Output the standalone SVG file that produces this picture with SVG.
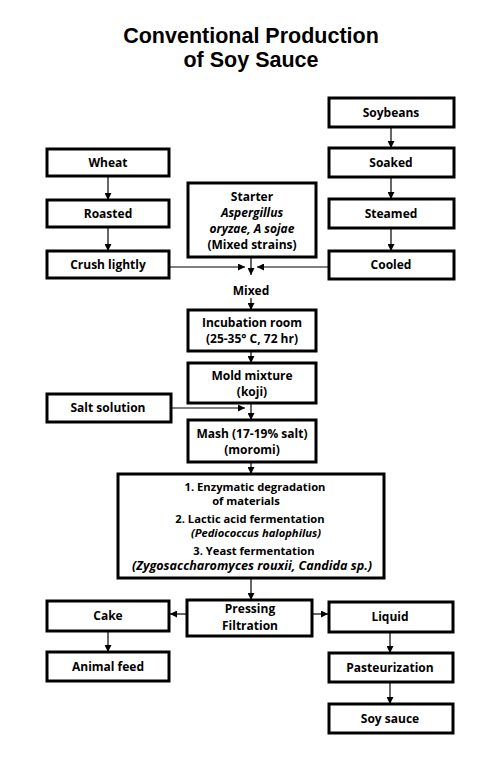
<svg xmlns="http://www.w3.org/2000/svg" width="500" height="765" viewBox="0 0 500 765">
<defs>
<marker id="ah" viewBox="0 0 10 10" refX="10" refY="5" markerWidth="7" markerHeight="7" markerUnits="userSpaceOnUse" orient="auto">
<path d="M0,0 L10,5 L0,10 z" fill="#000"/>
</marker>
<style>
.box{fill:#fff;stroke:#000;stroke-width:3}
.t{font-family:"Open Sans","Liberation Sans",sans-serif;font-weight:bold;font-size:12px;fill:#000;text-anchor:middle}
.s{font-size:11.2px}
.i{font-style:italic}
.title{font-family:"Liberation Sans","Open Sans",sans-serif;font-weight:bold;font-size:21.5px;fill:#000;text-anchor:middle}
.c{stroke:#000;stroke-width:1.2;fill:none}
</style>
</defs>
<rect width="500" height="765" fill="#fff"/>
<g id="title">
<text class="title" x="251" y="42.5">Conventional Production</text>
<text class="title" x="251" y="67">of Soy Sauce</text>
</g>
<g id="connectors">
<line class="c" x1="108" y1="176" x2="108" y2="200" marker-end="url(#ah)"/>
<line class="c" x1="108" y1="227" x2="108" y2="251" marker-end="url(#ah)"/>
<line class="c" x1="391" y1="127" x2="391" y2="148" marker-end="url(#ah)"/>
<line class="c" x1="391" y1="177" x2="391" y2="199" marker-end="url(#ah)"/>
<line class="c" x1="391" y1="228" x2="391" y2="251" marker-end="url(#ah)"/>
<line class="c" x1="169" y1="267" x2="245" y2="267" marker-end="url(#ah)"/>
<line class="c" x1="329" y1="267" x2="257" y2="267" marker-end="url(#ah)"/>
<line class="c" x1="251" y1="257" x2="251" y2="275" marker-end="url(#ah)"/>
<line class="c" x1="251" y1="298" x2="251" y2="310" marker-end="url(#ah)"/>
<line class="c" x1="251" y1="351" x2="251" y2="363" marker-end="url(#ah)"/>
<line class="c" x1="251" y1="403" x2="251" y2="420" marker-end="url(#ah)"/>
<line class="c" x1="171" y1="408" x2="245" y2="408" marker-end="url(#ah)"/>
<line class="c" x1="251" y1="462" x2="251" y2="474" marker-end="url(#ah)"/>
<line class="c" x1="251" y1="578" x2="251" y2="600" marker-end="url(#ah)"/>
<line class="c" x1="187" y1="614" x2="170" y2="614" marker-end="url(#ah)"/>
<line class="c" x1="312" y1="614" x2="328" y2="614" marker-end="url(#ah)"/>
<line class="c" x1="108" y1="631" x2="108" y2="652" marker-end="url(#ah)"/>
<line class="c" x1="390" y1="632" x2="390" y2="653" marker-end="url(#ah)"/>
<line class="c" x1="390" y1="682" x2="390" y2="704" marker-end="url(#ah)"/>
</g>
<g id="wheat"><rect class="box" x="47" y="149" width="122" height="27"/><text class="t" x="108" y="167">Wheat</text></g>
<g id="roasted"><rect class="box" x="47" y="200" width="122" height="27"/><text class="t" x="108" y="218">Roasted</text></g>
<g id="crush"><rect class="box" x="47" y="251" width="122" height="27"/><text class="t" x="108" y="269">Crush lightly</text></g>
<g id="soybeans"><rect class="box" x="329" y="98" width="125" height="29"/><text class="t" x="391" y="117">Soybeans</text></g>
<g id="soaked"><rect class="box" x="329" y="148" width="125" height="29"/><text class="t" x="391" y="167">Soaked</text></g>
<g id="steamed"><rect class="box" x="329" y="199" width="125" height="29"/><text class="t" x="391" y="218">Steamed</text></g>
<g id="cooled"><rect class="box" x="329" y="251" width="125" height="28"/><text class="t" x="391" y="269">Cooled</text></g>
<g id="starter"><rect class="box" x="188" y="183" width="128" height="74"/>
<text class="t" x="252" y="201">Starter</text>
<text class="t i" x="252" y="217">Aspergillus</text>
<text class="t i" x="252" y="233">oryzae, A sojae</text>
<text class="t" x="252" y="249">(Mixed strains)</text></g>
<g id="mixed"><text class="t" x="251" y="295">Mixed</text></g>
<g id="incubation"><rect class="box" x="188" y="310" width="128" height="41"/>
<text class="t" x="252" y="327">Incubation room</text>
<text class="t" x="252" y="343">(25-35° C, 72 hr)</text></g>
<g id="mold"><rect class="box" x="188" y="363" width="128" height="40"/>
<text class="t" x="252" y="380">Mold mixture</text>
<text class="t" x="252" y="396">(koji)</text></g>
<g id="salt"><rect class="box" x="47" y="394" width="124" height="28"/><text class="t" x="108" y="412">Salt solution</text></g>
<g id="mash"><rect class="box" x="188" y="420" width="128" height="42"/>
<text class="t" x="252" y="438">Mash (17-19% salt)</text>
<text class="t" x="252" y="454">(moromi)</text></g>
<g id="fermentation"><rect class="box" x="118" y="474" width="266" height="104"/>
<text class="t s" x="255" y="491">1. Enzymatic degradation</text>
<text class="t s" x="246" y="505">of materials</text>
<text class="t s" x="250" y="523">2. Lactic acid fermentation</text>
<text class="t s i" x="256" y="537">(Pediococcus halophilus)</text>
<text class="t s" x="254" y="555">3. Yeast fermentation</text>
<text class="t i" x="252" y="570" style="font-size:12.6px">(Zygosaccharomyces rouxii, Candida sp.)</text></g>
<g id="pressing"><rect class="box" x="187" y="600" width="125" height="36"/>
<text class="t" x="250" y="613">Pressing</text>
<text class="t" x="250" y="630">Filtration</text></g>
<g id="cake"><rect class="box" x="47" y="601" width="122" height="30"/><text class="t" x="108" y="620">Cake</text></g>
<g id="liquid"><rect class="box" x="329" y="602" width="124" height="30"/><text class="t" x="390" y="621">Liquid</text></g>
<g id="animalfeed"><rect class="box" x="47" y="652" width="122" height="29"/><text class="t" x="108" y="671">Animal feed</text></g>
<g id="pasteurization"><rect class="box" x="329" y="653" width="124" height="29"/><text class="t" x="390" y="672">Pasteurization</text></g>
<g id="soysauce"><rect class="box" x="329" y="704" width="124" height="29"/><text class="t" x="390" y="723">Soy sauce</text></g>
</svg>
